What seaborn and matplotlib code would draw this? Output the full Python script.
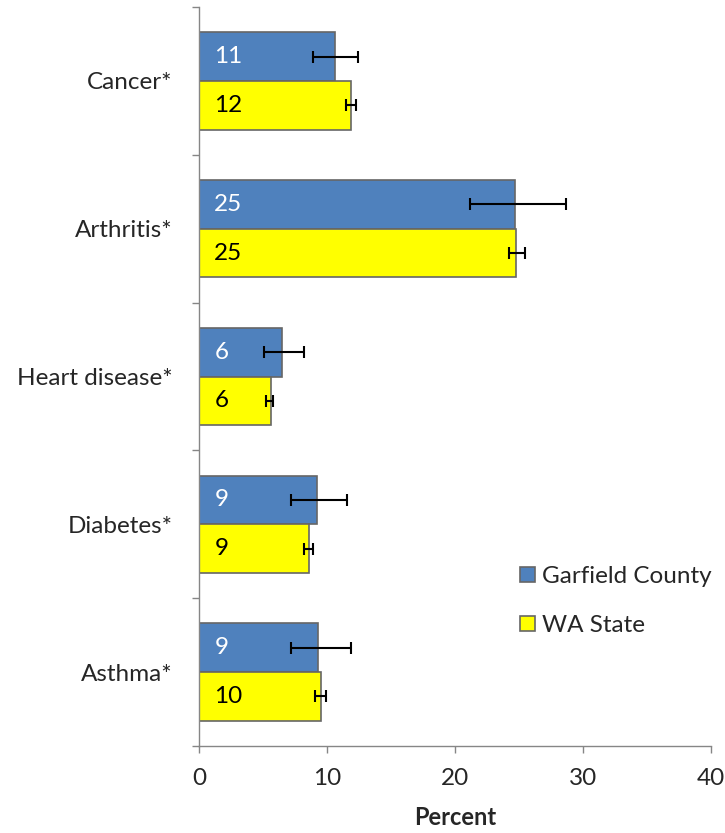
import matplotlib
matplotlib.use('Agg')
import matplotlib.pyplot as plt
import seaborn as sns
import pandas as pd
import numpy as np

categories = ["Cancer*", "Arthritis*", "Heart disease*", "Diabetes*", "Asthma*"]
series = ["Garfield County", "WA State"]

county = [10.6, 24.7, 6.5, 9.2, 9.3]
county_low = [8.9, 21.2, 5.1, 7.2, 7.2]
county_high = [12.4, 28.7, 8.2, 11.6, 11.9]
county_labels = ["11", "25", "6", "9", "9"]

state = [11.9, 24.8, 5.6, 8.6, 9.55]
state_low = [11.5, 24.2, 5.2, 8.2, 9.1]
state_high = [12.3, 25.5, 5.8, 8.9, 9.9]
state_labels = ["12", "25", "6", "9", "10"]

colors = ["#4F81BD", "#FFFF00"]
grey = "#868686"

df = pd.DataFrame({
    "Condition": categories * 2,
    "Percent": county + state,
    "Group": [series[0]] * len(categories) + [series[1]] * len(categories),
})

sns.set_style("white")
plt.rcParams['font.family'] = ['Lato', 'DejaVu Sans']

fig = plt.figure(figsize=(7.25, 8.33), dpi=100)
ax = fig.add_axes([199 / 725, 1 - 746 / 833, 512 / 725, 739 / 833])

sns.barplot(data=df, y="Condition", x="Percent", hue="Group", orient="h",
            palette=colors, saturation=1, width=0.66, errorbar=None,
            edgecolor="#666666", linewidth=1.2, ax=ax)

# error bars + value labels, placed on the bars seaborn drew
err_sets = [(county, county_low, county_high, county_labels, "white"),
            (state, state_low, state_high, state_labels, "black")]
for cont, (vals, lows, highs, labs, tcol) in zip(ax.containers, err_sets):
    for bar, v, lo, hi, lab in zip(cont, vals, lows, highs, labs):
        yc = bar.get_y() + bar.get_height() / 2
        ax.errorbar(v, yc, xerr=[[v - lo], [hi - v]], fmt='none', ecolor='black',
                    elinewidth=1.5, capsize=4.3, capthick=1.5)
        ax.text(1.2, yc, lab, color=tcol, fontsize=17.5, ha='left', va='center')

ax.set_xlim(0, 40)
ax.set_xticks(range(0, 41, 10))
ax.set_ylim(4.5, -0.5)
ax.set_yticks(np.arange(-0.5, 5, 1), minor=True)
ax.tick_params(axis='y', which='major', length=0, pad=19, labelsize=17.5)
ax.tick_params(axis='y', which='minor', length=5, width=1, color=grey, direction='out', left=True)
ax.tick_params(axis='x', length=5, width=1, color=grey, direction='out', bottom=True,
               pad=11, labelsize=17.5)
ax.set_ylabel("")
ax.set_xlabel("Percent", fontsize=17, fontweight='bold', labelpad=12)

for s in ["top", "right"]:
    ax.spines[s].set_visible(False)
for s in ["left", "bottom"]:
    ax.spines[s].set_color(grey)
    ax.spines[s].set_linewidth(1)

handles, labels = ax.get_legend_handles_labels()
ax.legend(handles, labels, loc='center left', bbox_to_anchor=(520 / 725, 1 - 601 / 833),
          bbox_transform=fig.transFigure, frameon=False, fontsize=17.5,
          handlelength=0.6, handleheight=0.6, handletextpad=0.3, labelspacing=1.15,
          borderpad=0, borderaxespad=0)

fig.savefig("out.png", dpi=100)
plt.close()
